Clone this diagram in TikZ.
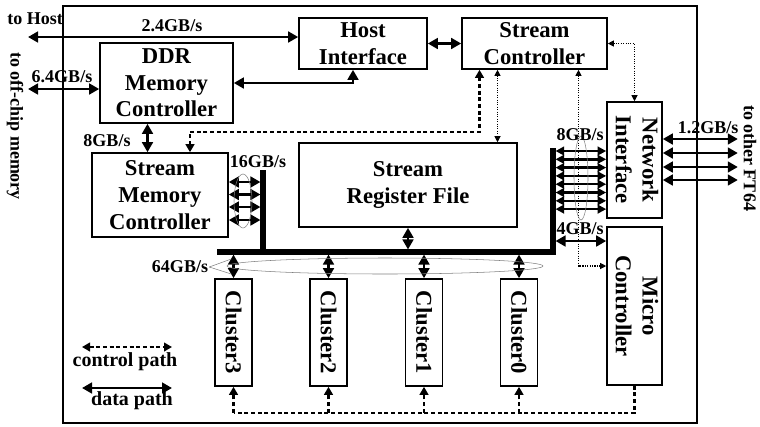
\documentclass[tikz,border=0pt]{standalone}
\usepackage{graphicx}
\usepackage{fontspec}
\setmainfont{Liberation Serif}
\usetikzlibrary{arrows.meta,calc}

\tikzset{
  boxsize/.style 2 args={minimum width=#1*0.75pt,minimum height=#2*0.75pt},
  blk/.style={draw,line width=1.2pt,inner sep=0pt,align=center,font=\fontsize{17}{20}\selectfont\bfseries},
  lbl/.style={inner sep=0.75pt,font=\fontsize{13.5}{15}\selectfont\bfseries},
  legend/.style={inner sep=0.75pt,font=\fontsize{15}{17}\selectfont\bfseries},
  datapath/.style={line width=2pt,>={Triangle[length=7.5pt,width=8pt]}},
  ctrl/.style={line width=1.6pt,dash pattern=on 3pt off 2pt,>={Triangle[length=6pt,width=6.5pt]}},
  ctrldot/.style={line width=0.8pt,densely dotted,>={Triangle[length=4.5pt,width=4.5pt]}},
  bus/.style={line width=3.8pt},
  rate/.style={gray,line width=0.4pt},
}

\begin{document}
\begin{tikzpicture}[x=0.75pt,y=0.75pt,yscale=-1,xscale=1]
\useasboundingbox (0,0) rectangle (760,426);

%Shape: Rectangle (chip border)
\draw [line width=1.2pt] (63,6) rectangle (697,423);

%Shape: Blocks
\node [blk,boxsize={128}{51}] (hostif) at (363,43.5) {Host\\Interface};
\node [blk,boxsize={145}{51}] (strctrl) at (534.5,43.5) {Stream\\Controller};
\node [blk,boxsize={133}{80}] (ddr) at (166.5,83) {DDR\\Memory\\Controller};
\node [blk,boxsize={136}{84}] (smc) at (160,195) {Stream\\Memory\\Controller};
\node [blk,boxsize={218}{84}] (srf) at (408,185) {Stream\\Register File};
\node [blk,boxsize={55}{116}] (netif) at (634.5,160)
  {\rotatebox{-90}{\begin{tabular}{@{}c@{}}Network\\Interface\end{tabular}}};
\node [blk,boxsize={55}{158}] (microctrl) at (634.5,306)
  {\rotatebox{-90}{\begin{tabular}{@{}c@{}}Micro\\Controller\end{tabular}}};
\foreach \i/\x in {3/233.5,2/328.5,1/424,0/519}
  \node [blk,boxsize={37}{107}] (cl\i) at (\x,332.5) {\rotatebox{-90}{Cluster\i}};

%Straight Lines (buses)
\coordinate (busL) at (217,252);
\coordinate (busR) at (553,252);
\coordinate (busT) at (553,148);
\coordinate (smcbus) at (263,170);
\draw [bus] (busL) -- (busR) -- (busT);
\draw [bus] (smcbus) -- (smcbus |- busL);

%Straight Lines (off-chip data)
\coordinate (tohost) at (28,37);
\coordinate (tomem) at (28,89);
\draw [datapath,<->] (tohost) -- (tohost -| hostif.west);
\draw [datapath,<->] (tomem) -- (tomem -| ddr.west);
\draw [datapath,<->] (hostif.east) -- (strctrl.west);
\coordinate (hidn) at ($(hostif.south)+(-10,0)$);
\draw [datapath,<->] (hidn) |- (ddr.east);
\coordinate (ddrdn) at ($(ddr.south)+(-19,0)$);
\draw [datapath,<->] (ddrdn) -- (ddrdn |- smc.north);

%Straight Lines (on-chip data)
\draw [datapath,<->,shorten <=1.9pt] (srf.south |- busL) -- (srf.south);
\foreach \i in {0,...,3}
  \draw [datapath,<->,shorten <=1.9pt] (cl\i.north |- busL) -- (cl\i.north);
\foreach \dy in {-13,-0.5,12,25} {
  \coordinate (sm) at ($(smc.east)+(0,\dy)$);
  \draw [datapath,<->,shorten >=1.9pt] (sm) -- (sm -| smcbus);
}
\foreach \k in {0,...,7} {
  \coordinate (ni) at ($(netif.west)+(0,-9+8.3*\k)$);
  \draw [datapath,line width=1.8pt,<->,>={Triangle[length=6.5pt,width=6.5pt]},shorten <=1.9pt] (ni -| busT) -- (ni);
}
\coordinate (mc4) at ($(microctrl.west)+(0,-65)$);
\draw [datapath,<->,shorten <=1.9pt] (mc4 -| busT) -- (mc4);
\foreach \dy in {-21,-7,7,20} {
  \coordinate (ft) at ($(netif.east)+(0,\dy)$);
  \draw [datapath,<->] (ft) -- ++(75,0);
}

%Straight Lines (control)
\coordinate (scdn) at ($(strctrl.south)+(-55,0)$);
\coordinate (smcup) at ($(smc.north)+(30,0)$);
\draw [ctrl,<->] (scdn) -- ++(0,62) -| (smcup);
\coordinate (scsrf) at ($(strctrl.south)+(-37,0)$);
\draw [ctrldot,<->] (scsrf) -- (scsrf |- srf.north);
\coordinate (scmc) at ($(strctrl.south)+(44,0)$);
\coordinate (mcin) at ($(microctrl.west)+(0,-40)$);
\draw [ctrldot,<->] (scmc) |- (mcin);
\draw [ctrldot,<->] (strctrl.east) -| (netif.north);
\coordinate (ctlbus) at ($(microctrl.south)+(0,27)$);
\draw [ctrl] (microctrl.south) -- (ctlbus) -- (ctlbus -| cl3.south);
\foreach \i in {0,...,3}
  \draw [ctrl,->] (ctlbus -| cl\i.south) -- (cl\i.south);

%Shape: Ellipse (bandwidth groups)
\draw [rate] (385,266) ellipse [x radius=158, y radius=8];
\draw [rate] (243,201) ellipse [x radius=9, y radius=27];
\draw [rate] (581,178) ellipse [x radius=7, y radius=42];

% Text Node
\node [lbl,anchor=west] (host) at (6,19) {to Host};
\node [lbl,rotate=-90] (offchip) at (15,126) {to off-chip memory};
\node [lbl,rotate=-90] (ft64) at (750,158) {to other FT64};
\node [lbl] (bw24) at (172,26) {2.4GB/s};
\node [lbl] (bw64off) at (62,77) {6.4GB/s};
\node [lbl] (bw8a) at (107,141) {8GB/s};
\node [lbl] (bw16) at (258,162) {16GB/s};
\node [lbl] (bw64) at (180,267) {64GB/s};
\node [lbl] (bw8b) at (580,135) {8GB/s};
\node [lbl] (bw4) at (580,229) {4GB/s};
\node [lbl] (bw12) at (708,128) {1.2GB/s};
\draw [rate] (bw64.east) -- ++(22,-8);
\draw [rate] (bw64.east) -- ++(22,7);

% Legend
\coordinate (lgc1) at (82,347);
\coordinate (lgc2) at (172,347);
\coordinate (lgd1) at (82,388);
\coordinate (lgd2) at (172,388);
\draw [ctrl,<->] (lgc1) -- (lgc2);
\draw [datapath,<->] (lgd1) -- (lgd2);
\node [legend] (lgctl) at (125,362) {control path};
\node [legend] (lgdat) at (132,401) {data path};

\end{tikzpicture}
\end{document}
